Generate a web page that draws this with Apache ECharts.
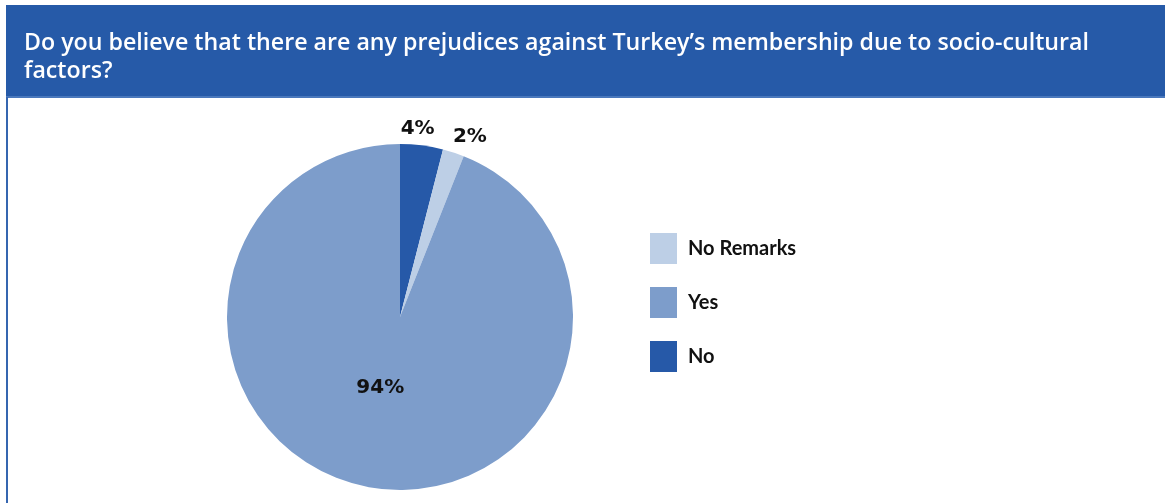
<!DOCTYPE html>
<html><head><meta charset="utf-8">
<script src="https://cdn.jsdelivr.net/npm/echarts@6/dist/echarts.min.js"></script>
<style>html,body{margin:0;padding:0;background:#fff;}#c{width:1165px;height:503px;}</style>
</head><body><div id="c"></div>
<script>
const titleText = "Do you believe that there are any prejudices against Turkey\u2019s membership due to socio-cultural\nfactors?";
const categories = ["No", "No Remarks", "Yes"];
const values = [4, 2, 94];
const legendOrder = ["No Remarks", "Yes", "No"];
const colors = {"No": "#2659A8", "No Remarks": "#BDCFE6", "Yes": "#7D9DCB"};

const chart = echarts.init(document.getElementById('c'));
const labelShift = {0: [-27, -9], 1: [-8, -8], 2: [-3, -17]};
chart.setOption({
  animation: false,
  graphic: [
    {type: 'rect', shape: {x: 6, y: 5, width: 1165, height: 92}, style: {fill: '#265AA8'}, z: 0},
    {type: 'rect', shape: {x: 6, y: 96, width: 1165, height: 2}, style: {fill: '#4A78BC'}, z: 1},
    {type: 'rect', shape: {x: 6, y: 97, width: 2, height: 410}, style: {fill: '#3566B0'}, z: 1}
  ],
  title: {
    text: titleText, left: 19, top: 24,
    textStyle: {color: '#fff', fontFamily: 'Open Sans', fontWeight: 600, fontSize: 23.2, lineHeight: 28}
  },
  legend: {
    data: legendOrder, orient: 'vertical', left: 645, top: 228,
    itemWidth: 27, itemHeight: 31, itemGap: 23, icon: 'rect',
    textStyle: {fontFamily: 'Lato', fontWeight: 'bold', fontSize: 20, color: '#111', padding: [0, 0, 0, 6]}
  },
  series: [{
    type: 'pie', center: [400, 317], radius: 173, startAngle: 90, clockwise: true,
    avoidLabelOverlap: false,
    label: {fontFamily: 'DejaVu Sans', fontWeight: 'bold', fontSize: 20, color: '#111', formatter: '{c}%'},
    labelLine: {show: false, length: 8, length2: 0},
    labelLayout: function (p) { const s = labelShift[p.dataIndex]; return {dx: s[0], dy: s[1]}; },
    data: categories.map((n, i) => ({
      name: n, value: values[i], itemStyle: {color: colors[n]},
      label: {position: n === 'Yes' ? 'inside' : 'outside'}
    }))
  }]
});
</script></body></html>
